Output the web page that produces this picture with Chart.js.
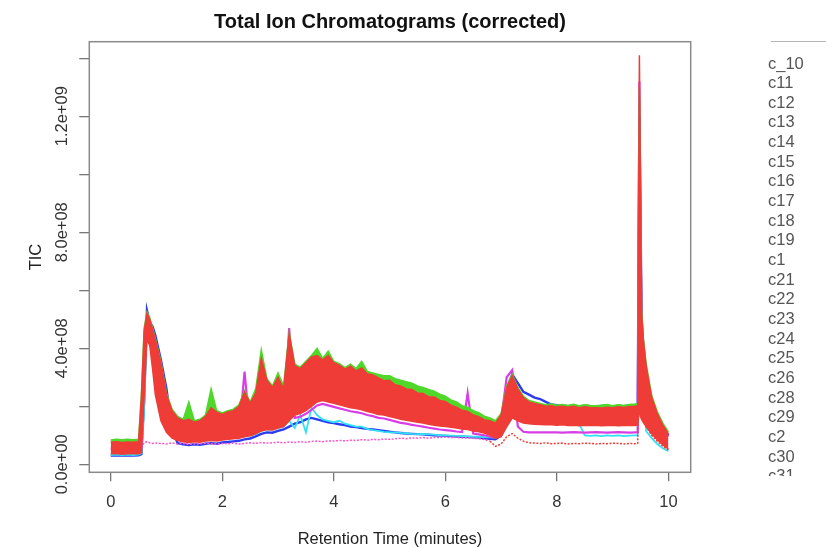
<!DOCTYPE html>
<html>
<head>
<meta charset="utf-8">
<script src="https://cdn.jsdelivr.net/npm/chart.js@4.4.1/dist/chart.umd.min.js"></script>
<style>
html,body{margin:0;padding:0;background:#fff;}
#wrap{position:relative;width:826px;height:548px;overflow:hidden;background:#fff;}
#c{position:absolute;left:0;top:0;}
#legTop{position:absolute;left:771px;top:41px;width:60px;height:0;border-top:1.5px solid #b4b4b4;}
#legend{position:absolute;left:768px;top:53.5px;width:58px;height:422.5px;overflow:hidden;
  font:16.5px "Liberation Sans",Arial,Helvetica,sans-serif;color:#555;line-height:19.65px;white-space:nowrap;}
</style>
</head>
<body>
<div id="wrap">
  <canvas id="c" width="826" height="548"></canvas>
  <div id="legTop"></div>
  <div id="legend"></div>
</div>
<script>
// ---------------- data (TIC in units of 1e8) ----------------
const chartTitle = "Total Ion Chromatograms (corrected)";
const xTitle = "Retention Time (minutes)";
const yTitle = "TIC";
const xTickValues = [0, 2, 4, 6, 8, 10];
const yTickValues = [0, 2, 4, 6, 8, 10, 12, 14];
const sampleNames = ["c_10","c11","c12","c13","c14","c15","c16","c17","c18","c19","c1",
  "c21","c22","c23","c24","c25","c26","c28","c29","c2","c30","c31"];

const retentionTime = [
  0, 0.1, 0.2, 0.3, 0.4, 0.5, 0.55, 0.6, 0.65, 0.7, 0.75, 0.8,
  0.9, 1.0, 1.1, 1.2, 1.3, 1.4, 1.5, 1.6, 1.7, 1.8, 1.9,
  2.0, 2.1, 2.2, 2.3, 2.4, 2.5, 2.6, 2.7, 2.8, 2.9,
  3.0, 3.1, 3.2, 3.3, 3.4, 3.5, 3.6, 3.7, 3.8, 3.9,
  4.0, 4.1, 4.2, 4.3, 4.4, 4.5, 4.6, 4.7, 4.8, 4.9,
  5.0, 5.1, 5.2, 5.3, 5.4, 5.5, 5.6, 5.7, 5.8, 5.9,
  6.0, 6.1, 6.2, 6.3, 6.4, 6.5, 6.6, 6.7, 6.8, 6.9,
  7.0, 7.1, 7.2, 7.3, 7.4, 7.5, 7.6, 7.7, 7.8, 7.9,
  8.0, 8.1, 8.2, 8.3, 8.4, 8.5, 8.6, 8.7, 8.8, 8.9,
  9.0, 9.1, 9.2, 9.3, 9.4,
  9.45, 9.48, 9.5, 9.52, 9.55, 9.6, 9.7, 9.8, 9.9, 10.0
];

// upper edge of the dense red bundle
const redUpper = [
  0.76, 0.78, 0.75, 0.77, 0.76, 0.78, 2.3, 4.6, 5.2, 5.0, 4.65, 4.3,
  3.5, 2.4, 1.85, 1.6, 1.5, 1.55, 1.45, 1.5, 1.65, 1.95, 1.8,
  1.72, 1.8, 1.85, 2.0, 2.5, 2.1, 2.45, 3.65, 2.9, 2.65,
  3.0, 2.6, 4.5, 3.4, 3.3, 3.5, 3.7, 3.75, 3.6, 3.75,
  3.5, 3.42, 3.28, 3.38, 3.22, 3.32, 3.12, 3.08, 2.98, 2.88,
  2.9, 2.74, 2.7, 2.6, 2.58, 2.46, 2.44, 2.33, 2.32, 2.2,
  2.17, 2.04, 1.97, 1.86, 1.82, 1.7, 1.64, 1.53, 1.5, 1.42,
  1.7, 2.65, 3.05, 2.6, 2.3, 2.15, 2.1, 2.05, 2.0, 2.02,
  1.98, 2.0, 1.97, 2.0, 1.95, 1.98, 1.96, 1.95, 1.94, 1.97,
  1.95, 1.98, 1.96, 1.99, 2.0,
  2.02, 14.1, 9.5, 5.2, 4.3, 3.4, 2.3, 1.75, 1.35, 1.05
];
// lower edge of the dense red bundle
const redLower = [
  0.36, 0.37, 0.35, 0.36, 0.37, 0.36, 0.4, 2.4, 4.3, 4.1, 3.3, 2.4,
  1.5, 1.1, 0.9, 0.82, 0.78, 0.75, 0.78, 0.76, 0.8, 0.82, 0.8,
  0.84, 0.86, 0.88, 0.9, 0.95, 0.98, 1.05, 1.15, 1.2, 1.18,
  1.25, 1.3, 1.5, 1.7, 1.75, 1.85, 2.0, 2.15, 2.2, 2.15,
  2.1, 2.05, 2.0, 1.95, 1.92, 1.88, 1.82, 1.78, 1.72, 1.7,
  1.65, 1.6, 1.55, 1.52, 1.48, 1.45, 1.42, 1.38, 1.35, 1.32,
  1.3, 1.28, 1.25, 1.22, 1.2, 1.15, 1.12, 1.08, 1.0, 0.9,
  0.95, 1.3, 1.6, 1.5, 1.42, 1.4, 1.38, 1.37, 1.36, 1.36,
  1.35, 1.36, 1.34, 1.35, 1.33, 1.35, 1.34, 1.35, 1.33, 1.34,
  1.35, 1.33, 1.34, 1.35, 1.34,
  1.35, 1.9, 1.65, 1.55, 1.45, 1.3, 1.05, 0.85, 0.68, 0.52
];
const greenTrace = [
  0.84, 0.86, 0.85, 0.86, 0.85, 0.86, 2.4, 4.7, 5.25, 5.05, 4.7, 4.35,
  3.55, 2.45, 1.9, 1.65, 1.55, 2.15, 1.5, 1.55, 1.7, 2.6, 1.85,
  1.77, 1.85, 1.9, 2.05, 2.55, 2.15, 2.6, 3.95, 2.95, 2.7,
  3.15, 2.7, 4.55, 3.45, 3.35, 3.55, 3.75, 4.0, 3.65, 3.9,
  3.55, 3.47, 3.33, 3.45, 3.3, 3.55, 3.2, 3.15, 3.1, 3.05,
  3.05, 2.95, 2.9, 2.85, 2.8, 2.7, 2.65, 2.58, 2.52, 2.42,
  2.35, 2.22, 2.15, 2.02, 1.97, 1.85, 1.78, 1.66, 1.6, 1.5,
  1.75, 2.7, 3.1, 2.65, 2.35, 2.2, 2.15, 2.1, 2.05, 2.08,
  2.04, 2.06, 2.03, 2.07, 2.02, 2.05, 2.03, 2.02, 2.04, 2.06,
  2.02, 2.05, 2.03, 2.06, 2.08,
  2.1, 13.0, 9.0, 5.3, 4.35, 3.48, 2.38, 1.82, 1.42, 1.12
];
const blueTrace = [
  0.3, 0.31, 0.3, 0.31, 0.3, 0.31, 0.35, 2.2, 5.3, 4.9, 4.75, 4.45,
  3.6, 2.6, 1.2, 0.73, 0.69, 0.66, 0.69, 0.67, 0.71, 0.73, 0.71,
  0.75, 0.77, 0.79, 0.81, 0.86, 0.89, 0.96, 1.05, 1.1, 1.09,
  1.15, 1.2, 1.3, 1.4, 1.45, 1.55, 1.6, 1.55, 1.5, 1.45,
  1.42, 1.38, 1.35, 1.3, 1.28, 1.25, 1.22, 1.2, 1.18, 1.15,
  1.12, 1.1, 1.08, 1.06, 1.05, 1.04, 1.03, 1.02, 1.0, 0.99,
  0.98, 0.97, 0.96, 0.95, 0.94, 0.93, 0.92, 0.9, 0.88, 0.86,
  1.0, 2.6, 3.1, 2.8, 2.5, 2.4, 2.3, 2.25, 2.15, 2.06,
  2.04, 2.03, 2.0, 2.03, 1.99, 2.02, 2.0, 1.98, 2.01, 2.02,
  1.99, 2.02, 2.0, 2.03, 2.04,
  2.05, 12.0, 8.5, 5.0, 4.1, 3.2, 2.2, 1.7, 1.3, 1.0
];
const magentaTrace = [
  0.55, 0.55, 0.55, 0.55, 0.55, 0.55, 0.6, 3.0, 5.0, 4.8, 4.4, 4.0,
  3.0, 2.0, 1.3, 1.0, 0.9, 0.88, 0.85, 0.86, 0.9, 0.95, 0.92,
  0.95, 0.98, 1.0, 1.05, 3.2, 1.1, 1.2, 1.5, 1.4, 1.35,
  1.4, 1.45, 4.7, 1.6, 1.64, 1.74, 1.88, 2.03, 2.08, 2.03,
  1.98, 1.93, 1.88, 1.83, 1.8, 1.76, 1.7, 1.66, 1.6, 1.58,
  1.53, 1.48, 1.43, 1.4, 1.36, 1.33, 1.3, 1.26, 1.23, 1.2,
  1.18, 1.16, 1.13, 1.11, 2.45, 1.06, 1.03, 1.0, 0.95, 0.92,
  1.5, 3.0, 3.25, 1.3, 1.12, 1.1, 1.1, 1.1, 1.1, 1.1,
  1.1, 1.09, 1.1, 1.11, 1.1, 1.09, 1.1, 1.11, 1.1, 1.09,
  1.1, 1.11, 1.1, 1.09, 1.1,
  1.1, 13.2, 8.0, 4.8, 4.0, 3.1, 2.1, 1.6, 1.2, 0.95
];
const cyanTrace = [
  0.32, 0.33, 0.32, 0.33, 0.32, 0.33, 0.38, 2.0, 4.8, 4.6, 4.2, 3.8,
  3.0, 1.9, 1.2, 0.9, 0.8, 0.78, 0.8, 0.8, 0.82, 0.85, 0.84,
  0.86, 0.88, 0.9, 0.93, 0.96, 1.0, 1.05, 1.15, 1.2, 1.2,
  1.25, 1.3, 1.5, 1.25, 1.7, 1.1, 1.95, 1.7, 1.55, 1.5,
  1.45, 1.5, 1.4, 1.35, 1.3, 1.3, 1.22, 1.18, 1.15, 1.12,
  1.1, 1.1, 1.08, 1.07, 1.05, 1.04, 1.05, 1.03, 1.02, 1.0,
  1.0, 0.99, 0.98, 0.97, 0.96, 0.95, 0.95, 0.94, 0.93, 0.92,
  0.98, 1.3, 1.6, 1.55, 1.45, 1.43, 1.42, 1.41, 1.4, 1.4,
  1.4, 1.4, 1.4, 1.4, 1.4, 1.0, 0.98, 1.0, 0.97, 1.0,
  0.98, 1.0, 0.97, 0.99, 1.0,
  1.0, 11.0, 7.5, 4.5, 3.5, 1.15, 0.9, 0.7, 0.55, 0.45
];
const lowTrace = [
  0.5, 0.5, 0.5, 0.5, 0.5, 0.5, 0.55, 0.75, 0.78, 0.74, 0.72, 0.73,
  0.72, 0.7, 0.74, 0.7, 0.72, 0.69, 0.71, 0.7, 0.73, 0.71, 0.7,
  0.72, 0.71, 0.73, 0.7, 0.72, 0.74, 0.72, 0.75, 0.73, 0.74,
  0.76, 0.74, 0.77, 0.75, 0.78, 0.76, 0.79, 0.8, 0.78, 0.81,
  0.8, 0.82, 0.81, 0.83, 0.82, 0.85, 0.83, 0.86, 0.85, 0.87,
  0.86, 0.88, 0.9, 0.88, 0.91, 0.9, 0.92, 0.9, 0.93, 0.92,
  0.94, 0.92, 0.93, 0.91, 0.92, 0.9, 0.88, 0.85, 0.8, 0.62,
  0.7, 0.95, 1.06, 0.9, 0.8, 0.74, 0.73, 0.72, 0.74, 0.71,
  0.72, 0.73, 0.7, 0.72, 0.71, 0.73, 0.72, 0.7, 0.72, 0.71,
  0.73, 0.72, 0.7, 0.72, 0.71,
  0.72, 10.0, 6.0, 3.5, 2.0, 1.3, 1.0, 0.8, 0.62, 0.5
];

// ---------------- chart ----------------
const FONT = '"Liberation Sans", Arial, Helvetica, sans-serif';
const RED = '#ef3c37', GREEN = '#4fd82a', BLUE = '#2b3bf0', MAGENTA = '#d93ee6', CYAN = '#33e1f5', PINK = '#ff55c8';

function pts(values) { return retentionTime.map((t, i) => ({ x: t, y: values[i] })); }
function sci(v) {
  const s = (v * 1e8).toExponential(1);
  return s.replace(/e([+-])(\d)$/, 'e$10$2');
}

const datasets = [
  { label: 'red upper', data: pts(redUpper), borderColor: RED, backgroundColor: RED, borderWidth: 1.5, fill: 1, order: 1 },
  { label: 'red lower', data: pts(redLower), borderColor: RED, borderWidth: 1.5, fill: false, order: 2 },
  { label: 'green', data: pts(greenTrace), borderColor: GREEN, backgroundColor: GREEN, borderWidth: 1.5, fill: 0, order: 4 },
  { label: 'blue', data: pts(blueTrace), borderColor: BLUE, borderWidth: 2.4, fill: false, order: 7 },
  { label: 'magenta', data: pts(magentaTrace), borderColor: MAGENTA, borderWidth: 2.2, fill: false, order: 5 },
  { label: 'cyan', data: pts(cyanTrace), borderColor: CYAN, borderWidth: 1.8, fill: false, order: 6 },
  { label: 'low', data: pts(lowTrace), borderColor: PINK, borderWidth: 1.5, borderDash: [2, 1.5], fill: false, order: 3,
    segment: { borderColor: ctx => (ctx.p0.parsed.x >= 6.75 ? RED : PINK) } }
];

const plotFrame = {
  id: 'plotFrame',
  afterDatasetsDraw(chart) {
    const { ctx, chartArea: a } = chart;
    ctx.save();
    ctx.strokeStyle = '#8a8a8a';
    ctx.lineWidth = 1.5;
    ctx.strokeRect(a.left, a.top, a.right - a.left, a.bottom - a.top);
    ctx.restore();
  },
  afterDraw(chart) {
    const { ctx, chartArea: a } = chart;
    ctx.save();
    ctx.fillStyle = '#111';
    ctx.font = 'bold 20px ' + FONT;
    ctx.textAlign = 'center';
    ctx.textBaseline = 'middle';
    ctx.fillText(chartTitle, (a.left + a.right) / 2, 22);
    ctx.restore();
  }
};

new Chart(document.getElementById('c'), {
  type: 'line',
  data: { datasets },
  options: {
    responsive: false,
    animation: false,
    devicePixelRatio: 1,
    layout: { padding: { left: 0, right: 135.3, top: 41.7, bottom: 0 } },
    elements: { point: { radius: 0 }, line: { tension: 0 } },
    plugins: {
      legend: { display: false },
      tooltip: { enabled: false },
      title: { display: false }
    },
    scales: {
      x: {
        type: 'linear', min: -0.384, max: 10.40, bounds: 'data',
        afterBuildTicks: s => { s.ticks = xTickValues.map(v => ({ value: v })); },
        afterFit: s => { s.height = 75.7; },
        grid: { drawOnChartArea: false, drawTicks: true, tickLength: 9, color: '#777', lineWidth: 1.3 },
        border: { display: false },
        ticks: { color: '#333', font: { family: FONT, size: 16.5 }, padding: 11, minRotation: 0, maxRotation: 0, autoSkip: false,
                 callback: v => String(v) },
        title: { display: true, text: xTitle, color: '#222', font: { family: FONT, size: 16.5 }, padding: { top: 0, bottom: -1.6 } }
      },
      y: {
        type: 'linear', min: -0.276, max: 14.57, bounds: 'data',
        afterBuildTicks: s => { s.ticks = yTickValues.map(v => ({ value: v })); },
        afterFit: s => { s.width = 89.3; },
        grid: { drawOnChartArea: false, drawTicks: true, tickLength: 10, color: '#777', lineWidth: 1.3 },
        border: { display: false },
        ticks: { color: '#333', font: { family: FONT, size: 16.5 }, padding: -12.75, minRotation: 90, maxRotation: 90,
                 crossAlign: 'center', autoSkip: false,
                 callback: v => (Math.abs(v % 4) < 1e-9 ? sci(v) : '') },
        title: { display: true, text: yTitle, color: '#222', font: { family: FONT, size: 16.5 }, padding: { top: 26.4, bottom: 0 } }
      }
    }
  },
  plugins: [plotFrame]
});

// legend (text only, as in the reference)
const leg = document.getElementById('legend');
sampleNames.forEach(n => { const d = document.createElement('div'); d.textContent = n; leg.appendChild(d); });
</script>
</body>
</html>
